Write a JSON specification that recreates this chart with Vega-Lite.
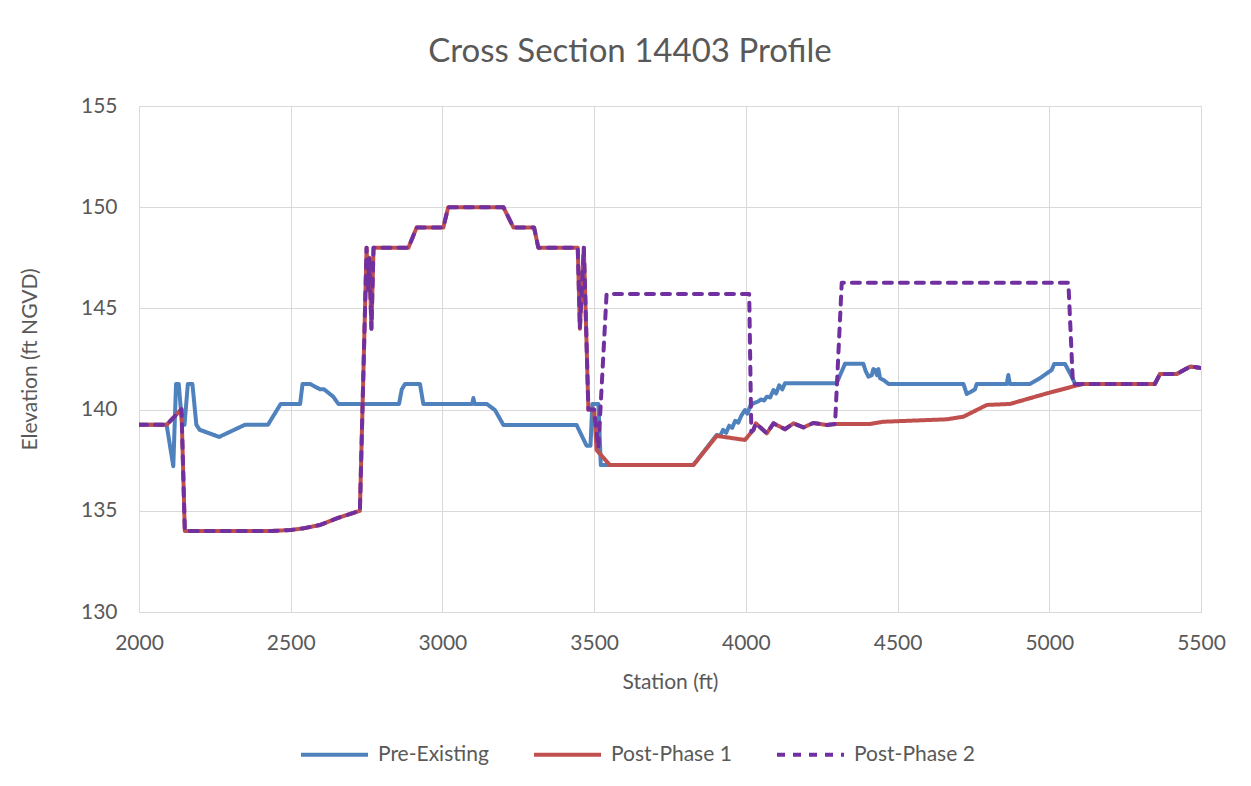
{
  "$schema": "https://vega.github.io/schema/vega-lite/v6.json",
  "width": 1062,
  "height": 506,
  "autosize": {"type": "none"},
  "padding": {"left": 139, "top": 106, "right": 50, "bottom": 174},
  "background": "white",
  "title": {
    "text": "Cross Section 14403 Profile",
    "font": "Lato",
    "fontSize": 33,
    "fontWeight": "normal",
    "color": "#595959",
    "anchor": "middle",
    "baseline": "alphabetic",
    "offset": 0,
    "dx": -40
  },
  "config": {
    "view": {"stroke": "#d9d9d9", "strokeWidth": 1},
    "axis": {
      "labelFont": "Lato",
      "labelFontSize": 21,
      "labelColor": "#595959",
      "titleFont": "Lato",
      "titleFontSize": 21,
      "titleFontWeight": "normal",
      "titleColor": "#595959",
      "gridColor": "#d9d9d9",
      "gridWidth": 1,
      "gridOpacity": 1,
      "ticks": false,
      "labelFlush": false,
      "labelOverlap": false,
      "domainColor": "#d9d9d9",
      "domainWidth": 1
    }
  },
  "data": {
    "values": [
      {"series": "Pre-Existing", "station": 2000, "elev": 139.25},
      {"series": "Pre-Existing", "station": 2091, "elev": 139.25},
      {"series": "Pre-Existing", "station": 2113, "elev": 137.2},
      {"series": "Pre-Existing", "station": 2122, "elev": 141.27},
      {"series": "Pre-Existing", "station": 2131, "elev": 141.27},
      {"series": "Pre-Existing", "station": 2142, "elev": 139.25},
      {"series": "Pre-Existing", "station": 2150, "elev": 139.25},
      {"series": "Pre-Existing", "station": 2161, "elev": 141.27},
      {"series": "Pre-Existing", "station": 2176, "elev": 141.27},
      {"series": "Pre-Existing", "station": 2189, "elev": 139.25},
      {"series": "Pre-Existing", "station": 2200, "elev": 139.0},
      {"series": "Pre-Existing", "station": 2264, "elev": 138.65},
      {"series": "Pre-Existing", "station": 2349, "elev": 139.25},
      {"series": "Pre-Existing", "station": 2425, "elev": 139.25},
      {"series": "Pre-Existing", "station": 2467, "elev": 140.28},
      {"series": "Pre-Existing", "station": 2531, "elev": 140.28},
      {"series": "Pre-Existing", "station": 2539, "elev": 141.27},
      {"series": "Pre-Existing", "station": 2563, "elev": 141.27},
      {"series": "Pre-Existing", "station": 2597, "elev": 141.0},
      {"series": "Pre-Existing", "station": 2610, "elev": 141.0},
      {"series": "Pre-Existing", "station": 2640, "elev": 140.64},
      {"series": "Pre-Existing", "station": 2657, "elev": 140.28},
      {"series": "Pre-Existing", "station": 2857, "elev": 140.28},
      {"series": "Pre-Existing", "station": 2866, "elev": 141.0},
      {"series": "Pre-Existing", "station": 2877, "elev": 141.27},
      {"series": "Pre-Existing", "station": 2926, "elev": 141.27},
      {"series": "Pre-Existing", "station": 2937, "elev": 140.28},
      {"series": "Pre-Existing", "station": 3098, "elev": 140.28},
      {"series": "Pre-Existing", "station": 3102, "elev": 140.57},
      {"series": "Pre-Existing", "station": 3106, "elev": 140.28},
      {"series": "Pre-Existing", "station": 3146, "elev": 140.28},
      {"series": "Pre-Existing", "station": 3173, "elev": 139.98},
      {"series": "Pre-Existing", "station": 3201, "elev": 139.24},
      {"series": "Pre-Existing", "station": 3442, "elev": 139.24},
      {"series": "Pre-Existing", "station": 3475, "elev": 138.22},
      {"series": "Pre-Existing", "station": 3488, "elev": 138.22},
      {"series": "Pre-Existing", "station": 3494, "elev": 140.28},
      {"series": "Pre-Existing", "station": 3514, "elev": 140.28},
      {"series": "Pre-Existing", "station": 3522, "elev": 137.26},
      {"series": "Pre-Existing", "station": 3827, "elev": 137.26},
      {"series": "Pre-Existing", "station": 3904, "elev": 138.75},
      {"series": "Pre-Existing", "station": 3915, "elev": 138.7},
      {"series": "Pre-Existing", "station": 3925, "elev": 139.0},
      {"series": "Pre-Existing", "station": 3935, "elev": 138.85},
      {"series": "Pre-Existing", "station": 3945, "elev": 139.2},
      {"series": "Pre-Existing", "station": 3955, "elev": 139.1},
      {"series": "Pre-Existing", "station": 3965, "elev": 139.45},
      {"series": "Pre-Existing", "station": 3975, "elev": 139.35},
      {"series": "Pre-Existing", "station": 3985, "elev": 139.7},
      {"series": "Pre-Existing", "station": 3997, "elev": 139.98},
      {"series": "Pre-Existing", "station": 4005, "elev": 139.8},
      {"series": "Pre-Existing", "station": 4015, "elev": 140.2},
      {"series": "Pre-Existing", "station": 4025, "elev": 140.31},
      {"series": "Pre-Existing", "station": 4040, "elev": 140.4},
      {"series": "Pre-Existing", "station": 4050, "elev": 140.5},
      {"series": "Pre-Existing", "station": 4060, "elev": 140.45},
      {"series": "Pre-Existing", "station": 4069, "elev": 140.64},
      {"series": "Pre-Existing", "station": 4080, "elev": 140.6},
      {"series": "Pre-Existing", "station": 4091, "elev": 140.97},
      {"series": "Pre-Existing", "station": 4100, "elev": 140.8},
      {"series": "Pre-Existing", "station": 4110, "elev": 141.2},
      {"series": "Pre-Existing", "station": 4120, "elev": 141.0},
      {"series": "Pre-Existing", "station": 4129, "elev": 141.3},
      {"series": "Pre-Existing", "station": 4299, "elev": 141.3},
      {"series": "Pre-Existing", "station": 4327, "elev": 142.27},
      {"series": "Pre-Existing", "station": 4387, "elev": 142.27},
      {"series": "Pre-Existing", "station": 4395, "elev": 141.9},
      {"series": "Pre-Existing", "station": 4404, "elev": 141.63},
      {"series": "Pre-Existing", "station": 4415, "elev": 141.7},
      {"series": "Pre-Existing", "station": 4420, "elev": 142.0},
      {"series": "Pre-Existing", "station": 4426, "elev": 141.96},
      {"series": "Pre-Existing", "station": 4432, "elev": 141.7},
      {"series": "Pre-Existing", "station": 4437, "elev": 142.0},
      {"series": "Pre-Existing", "station": 4442, "elev": 141.55},
      {"series": "Pre-Existing", "station": 4455, "elev": 141.45},
      {"series": "Pre-Existing", "station": 4470, "elev": 141.27},
      {"series": "Pre-Existing", "station": 4717, "elev": 141.27},
      {"series": "Pre-Existing", "station": 4728, "elev": 140.77},
      {"series": "Pre-Existing", "station": 4755, "elev": 141.0},
      {"series": "Pre-Existing", "station": 4761, "elev": 141.27},
      {"series": "Pre-Existing", "station": 4860, "elev": 141.27},
      {"series": "Pre-Existing", "station": 4865, "elev": 141.71},
      {"series": "Pre-Existing", "station": 4870, "elev": 141.27},
      {"series": "Pre-Existing", "station": 4936, "elev": 141.27},
      {"series": "Pre-Existing", "station": 4969, "elev": 141.55},
      {"series": "Pre-Existing", "station": 5008, "elev": 141.96},
      {"series": "Pre-Existing", "station": 5016, "elev": 142.25},
      {"series": "Pre-Existing", "station": 5052, "elev": 142.25},
      {"series": "Pre-Existing", "station": 5074, "elev": 141.63},
      {"series": "Pre-Existing", "station": 5085, "elev": 141.27},
      {"series": "Pre-Existing", "station": 5348, "elev": 141.27},
      {"series": "Pre-Existing", "station": 5365, "elev": 141.76},
      {"series": "Pre-Existing", "station": 5420, "elev": 141.76},
      {"series": "Pre-Existing", "station": 5464, "elev": 142.12},
      {"series": "Pre-Existing", "station": 5480, "elev": 142.1},
      {"series": "Pre-Existing", "station": 5500, "elev": 142.05},

      {"series": "Post-Phase 1", "station": 2000, "elev": 139.25},
      {"series": "Post-Phase 1", "station": 2091, "elev": 139.25},
      {"series": "Post-Phase 1", "station": 2140, "elev": 140.02},
      {"series": "Post-Phase 1", "station": 2151, "elev": 134.0},
      {"series": "Post-Phase 1", "station": 2432, "elev": 134.0},
      {"series": "Post-Phase 1", "station": 2500, "elev": 134.05},
      {"series": "Post-Phase 1", "station": 2541, "elev": 134.13},
      {"series": "Post-Phase 1", "station": 2597, "elev": 134.3},
      {"series": "Post-Phase 1", "station": 2652, "elev": 134.63},
      {"series": "Post-Phase 1", "station": 2728, "elev": 135.0},
      {"series": "Post-Phase 1", "station": 2750, "elev": 148.0},
      {"series": "Post-Phase 1", "station": 2755, "elev": 145.9},
      {"series": "Post-Phase 1", "station": 2759, "elev": 147.5},
      {"series": "Post-Phase 1", "station": 2766, "elev": 144.0},
      {"series": "Post-Phase 1", "station": 2773, "elev": 148.0},
      {"series": "Post-Phase 1", "station": 2888, "elev": 148.0},
      {"series": "Post-Phase 1", "station": 2915, "elev": 149.0},
      {"series": "Post-Phase 1", "station": 3003, "elev": 149.0},
      {"series": "Post-Phase 1", "station": 3019, "elev": 150.0},
      {"series": "Post-Phase 1", "station": 3201, "elev": 150.0},
      {"series": "Post-Phase 1", "station": 3234, "elev": 149.0},
      {"series": "Post-Phase 1", "station": 3302, "elev": 149.0},
      {"series": "Post-Phase 1", "station": 3316, "elev": 148.0},
      {"series": "Post-Phase 1", "station": 3446, "elev": 148.0},
      {"series": "Post-Phase 1", "station": 3453, "elev": 144.0},
      {"series": "Post-Phase 1", "station": 3466, "elev": 148.0},
      {"series": "Post-Phase 1", "station": 3470, "elev": 146.0},
      {"series": "Post-Phase 1", "station": 3481, "elev": 140.0},
      {"series": "Post-Phase 1", "station": 3500, "elev": 140.0},
      {"series": "Post-Phase 1", "station": 3508, "elev": 138.0},
      {"series": "Post-Phase 1", "station": 3552, "elev": 137.26},
      {"series": "Post-Phase 1", "station": 3827, "elev": 137.26},
      {"series": "Post-Phase 1", "station": 3904, "elev": 138.7},
      {"series": "Post-Phase 1", "station": 3997, "elev": 138.5},
      {"series": "Post-Phase 1", "station": 4025, "elev": 139.0},
      {"series": "Post-Phase 1", "station": 4033, "elev": 139.32},
      {"series": "Post-Phase 1", "station": 4069, "elev": 138.83},
      {"series": "Post-Phase 1", "station": 4091, "elev": 139.32},
      {"series": "Post-Phase 1", "station": 4129, "elev": 139.03},
      {"series": "Post-Phase 1", "station": 4157, "elev": 139.32},
      {"series": "Post-Phase 1", "station": 4190, "elev": 139.12},
      {"series": "Post-Phase 1", "station": 4222, "elev": 139.34},
      {"series": "Post-Phase 1", "station": 4266, "elev": 139.24},
      {"series": "Post-Phase 1", "station": 4300, "elev": 139.29},
      {"series": "Post-Phase 1", "station": 4409, "elev": 139.29},
      {"series": "Post-Phase 1", "station": 4453, "elev": 139.4},
      {"series": "Post-Phase 1", "station": 4662, "elev": 139.52},
      {"series": "Post-Phase 1", "station": 4717, "elev": 139.65},
      {"series": "Post-Phase 1", "station": 4794, "elev": 140.23},
      {"series": "Post-Phase 1", "station": 4871, "elev": 140.28},
      {"series": "Post-Phase 1", "station": 4992, "elev": 140.8},
      {"series": "Post-Phase 1", "station": 5085, "elev": 141.17},
      {"series": "Post-Phase 1", "station": 5112, "elev": 141.27},
      {"series": "Post-Phase 1", "station": 5348, "elev": 141.27},
      {"series": "Post-Phase 1", "station": 5365, "elev": 141.76},
      {"series": "Post-Phase 1", "station": 5420, "elev": 141.76},
      {"series": "Post-Phase 1", "station": 5464, "elev": 142.12},
      {"series": "Post-Phase 1", "station": 5480, "elev": 142.1},
      {"series": "Post-Phase 1", "station": 5500, "elev": 142.05},

      {"series": "Post-Phase 2", "station": 2000, "elev": 139.25},
      {"series": "Post-Phase 2", "station": 2091, "elev": 139.25},
      {"series": "Post-Phase 2", "station": 2140, "elev": 140.02},
      {"series": "Post-Phase 2", "station": 2151, "elev": 134.0},
      {"series": "Post-Phase 2", "station": 2432, "elev": 134.0},
      {"series": "Post-Phase 2", "station": 2500, "elev": 134.05},
      {"series": "Post-Phase 2", "station": 2541, "elev": 134.13},
      {"series": "Post-Phase 2", "station": 2597, "elev": 134.3},
      {"series": "Post-Phase 2", "station": 2652, "elev": 134.63},
      {"series": "Post-Phase 2", "station": 2728, "elev": 135.0},
      {"series": "Post-Phase 2", "station": 2750, "elev": 148.0},
      {"series": "Post-Phase 2", "station": 2755, "elev": 145.9},
      {"series": "Post-Phase 2", "station": 2759, "elev": 147.5},
      {"series": "Post-Phase 2", "station": 2766, "elev": 144.0},
      {"series": "Post-Phase 2", "station": 2773, "elev": 148.0},
      {"series": "Post-Phase 2", "station": 2888, "elev": 148.0},
      {"series": "Post-Phase 2", "station": 2915, "elev": 149.0},
      {"series": "Post-Phase 2", "station": 3003, "elev": 149.0},
      {"series": "Post-Phase 2", "station": 3019, "elev": 150.0},
      {"series": "Post-Phase 2", "station": 3201, "elev": 150.0},
      {"series": "Post-Phase 2", "station": 3234, "elev": 149.0},
      {"series": "Post-Phase 2", "station": 3302, "elev": 149.0},
      {"series": "Post-Phase 2", "station": 3316, "elev": 148.0},
      {"series": "Post-Phase 2", "station": 3446, "elev": 148.0},
      {"series": "Post-Phase 2", "station": 3453, "elev": 144.0},
      {"series": "Post-Phase 2", "station": 3466, "elev": 148.0},
      {"series": "Post-Phase 2", "station": 3470, "elev": 146.0},
      {"series": "Post-Phase 2", "station": 3481, "elev": 140.0},
      {"series": "Post-Phase 2", "station": 3500, "elev": 140.0},
      {"series": "Post-Phase 2", "station": 3514, "elev": 138.1},
      {"series": "Post-Phase 2", "station": 3541, "elev": 145.71},
      {"series": "Post-Phase 2", "station": 4011, "elev": 145.71},
      {"series": "Post-Phase 2", "station": 4018, "elev": 138.9},
      {"series": "Post-Phase 2", "station": 4025, "elev": 139.0},
      {"series": "Post-Phase 2", "station": 4033, "elev": 139.32},
      {"series": "Post-Phase 2", "station": 4069, "elev": 138.83},
      {"series": "Post-Phase 2", "station": 4091, "elev": 139.32},
      {"series": "Post-Phase 2", "station": 4129, "elev": 139.03},
      {"series": "Post-Phase 2", "station": 4157, "elev": 139.32},
      {"series": "Post-Phase 2", "station": 4190, "elev": 139.12},
      {"series": "Post-Phase 2", "station": 4222, "elev": 139.34},
      {"series": "Post-Phase 2", "station": 4266, "elev": 139.24},
      {"series": "Post-Phase 2", "station": 4294, "elev": 139.29},
      {"series": "Post-Phase 2", "station": 4316, "elev": 146.27},
      {"series": "Post-Phase 2", "station": 5063, "elev": 146.27},
      {"series": "Post-Phase 2", "station": 5078, "elev": 141.25},
      {"series": "Post-Phase 2", "station": 5112, "elev": 141.27},
      {"series": "Post-Phase 2", "station": 5348, "elev": 141.27},
      {"series": "Post-Phase 2", "station": 5365, "elev": 141.76},
      {"series": "Post-Phase 2", "station": 5420, "elev": 141.76},
      {"series": "Post-Phase 2", "station": 5464, "elev": 142.12},
      {"series": "Post-Phase 2", "station": 5480, "elev": 142.1},
      {"series": "Post-Phase 2", "station": 5500, "elev": 142.05}
    ]
  },
  "mark": {"type": "line", "strokeWidth": 4, "strokeCap": "round", "strokeJoin": "round", "clip": true},
  "encoding": {
    "x": {
      "field": "station",
      "type": "quantitative",
      "scale": {"domain": [2000, 5500], "nice": false, "zero": false},
      "axis": {
        "title": "Station (ft)",
        "values": [2000, 2500, 3000, 3500, 4000, 4500, 5000, 5500],
        "format": "d",
        "labelPadding": 20,
        "titlePadding": 18
      }
    },
    "y": {
      "field": "elev",
      "type": "quantitative",
      "scale": {"domain": [130, 155], "nice": false, "zero": false},
      "axis": {
        "title": "Elevation (ft NGVD)",
        "values": [130, 135, 140, 145, 150, 155],
        "labelPadding": 22,
        "titlePadding": 40,
        "domain": false
      }
    },
    "color": {
      "field": "series",
      "type": "nominal",
      "scale": {
        "domain": ["Pre-Existing", "Post-Phase 1", "Post-Phase 2"],
        "range": ["#4f81bd", "#c0504d", "#7030a0"]
      },
      "legend": {
        "title": null,
        "orient": "none",
        "direction": "horizontal",
        "legendX": 160,
        "legendY": 613,
        "symbolType": "stroke",
        "symbolSize": 4489,
        "symbolStrokeWidth": 4,
        "labelFont": "Lato",
        "labelFontSize": 21,
        "labelColor": "#595959",
        "labelOffset": 8,
        "columnPadding": 37
      }
    },
    "strokeDash": {
      "field": "series",
      "type": "nominal",
      "scale": {
        "domain": ["Pre-Existing", "Post-Phase 1", "Post-Phase 2"],
        "range": [[1, 0], [1, 0], [8, 8]]
      },
      "legend": {
        "title": null,
        "orient": "none",
        "direction": "horizontal",
        "legendX": 160,
        "legendY": 613,
        "symbolType": "stroke",
        "symbolSize": 4489,
        "symbolStrokeWidth": 4,
        "labelFont": "Lato",
        "labelFontSize": 21,
        "labelColor": "#595959",
        "labelOffset": 8,
        "columnPadding": 37
      }
    },
    "order": {"field": "station", "type": "quantitative"}
  }
}
